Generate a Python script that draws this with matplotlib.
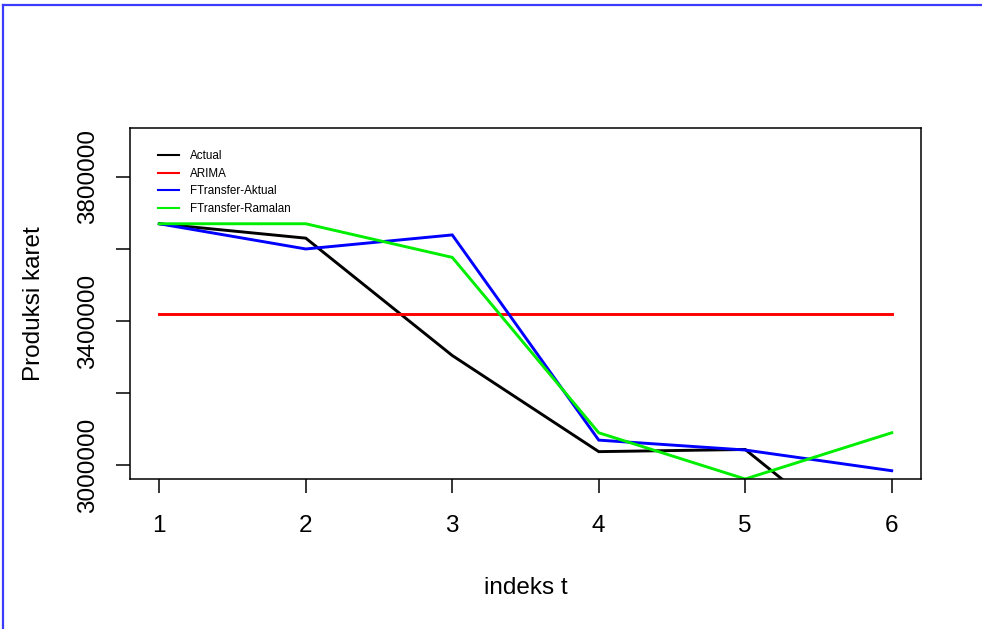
import matplotlib
matplotlib.use("Agg")
import matplotlib.pyplot as plt
from matplotlib.lines import Line2D

plt.rcParams['font.family'] = ['Liberation Sans', 'DejaVu Sans']

t = [1, 2, 3, 4, 5, 6]
actual = [3670000, 3630000, 3304000, 3037000, 3043000, 2715000]
arima = [3418000, 3418000, 3418000, 3418000, 3418000, 3418000]
ft_aktual = [3670000, 3600000, 3639000, 3069000, 3041500, 2984000]
ft_ramalan = [3670000, 3670000, 3576600, 3089400, 2961000, 3089400]

labels = ["Actual", "ARIMA", "FTransfer-Aktual", "FTransfer-Ramalan"]
colors = ["black", "#ff0000", "#0000ff", "#00ee00"]
series = [actual, arima, ft_aktual, ft_ramalan]

yticks = [3000000, 3200000, 3400000, 3600000, 3800000]
ytick_labels = ["3000000", "", "3400000", "", "3800000"]

W, H = 982, 629
fig = plt.figure(figsize=(W / 100, H / 100), dpi=100)
ax = fig.add_axes([130 / W, (H - 479) / H, (921 - 130) / W, (479 - 128) / H])

for s, c, lab in zip(series, colors, labels):
    ax.plot(t, s, color=c, lw=2.1, label=lab, solid_joinstyle='miter')

ax.set_xlim(0.8, 6.2)
ax.set_ylim(2961000, 3936000)
ax.set_xticks(t)
ax.set_xticklabels([str(v) for v in t])
ax.set_yticks(yticks)
ax.set_yticklabels(ytick_labels, rotation=90, va='center')
ax.tick_params(axis='both', length=10, width=1.1, labelsize=17.5, direction='out')
ax.tick_params(axis='x', pad=16)
ax.tick_params(axis='y', pad=12)
for sp in ax.spines.values():
    sp.set_linewidth(1.1)

ax.set_xlabel("indeks t", fontsize=17.5, labelpad=28.5)
ax.set_ylabel("Produksi karet", fontsize=17.5, labelpad=23)

leg = ax.legend(loc='upper left', bbox_to_anchor=(0.029, 0.95), frameon=False,
                fontsize=8.4, handlelength=1.85, handletextpad=0.95,
                labelspacing=0.48, borderaxespad=0)
for ln in leg.get_lines():
    ln.set_linewidth(1.5)

border_color = "#3c3cff"
fig.add_artist(Line2D([3 / W, 1], [1 - 5 / H, 1 - 5 / H], color=border_color, lw=1.6,
                      transform=fig.transFigure))
fig.add_artist(Line2D([3 / W, 3 / W], [0, 1 - 5 / H], color=border_color, lw=1.6,
                      transform=fig.transFigure))

fig.savefig("out.png", dpi=100)
